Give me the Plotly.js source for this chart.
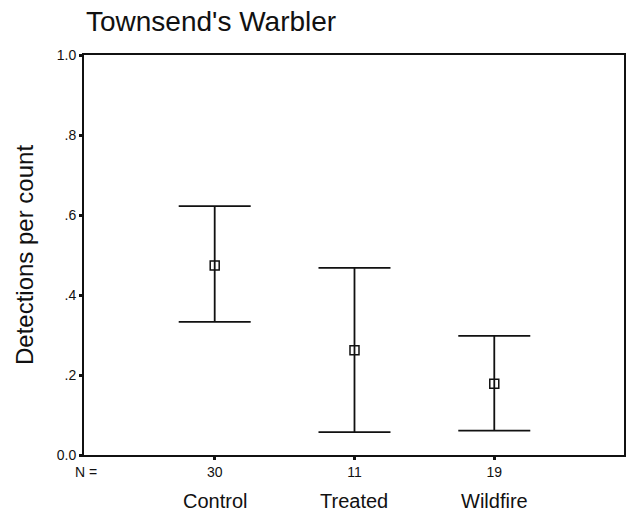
<!DOCTYPE html>
<html>
<head>
<meta charset="utf-8">
<script src="https://cdn.plot.ly/plotly-3.0.1.min.js"></script>
<style>html,body{margin:0;padding:0;background:#fff;}#chart{width:629px;height:511px;}</style>
</head>
<body>
<div id="chart"></div>
<script>
const categories = ["Control", "Treated", "Wildfire"];
const nValues = ["30", "11", "19"];
const means = [0.474, 0.262, 0.178];
const upper = [0.622, 0.468, 0.298];
const lower = [0.333, 0.057, 0.061];
const yTickVals = [0, 0.2, 0.4, 0.6, 0.8, 1.0];
const yTickText = ["0.0", ".2", ".4", ".6", ".8", "1.0"];

const xPos = categories.map((c, i) => i + 1);
const font = "Liberation Sans, Arial, sans-serif";

const trace = {
  type: "scatter",
  mode: "markers",
  x: xPos,
  y: means,
  marker: {symbol: "square-open", size: 9, color: "#111", line: {width: 1.5, color: "#111"}},
  error_y: {
    type: "data",
    symmetric: false,
    array: upper.map((u, i) => u - means[i]),
    arrayminus: lower.map((l, i) => means[i] - l),
    color: "#111",
    thickness: 1.8,
    width: 36
  },
  hoverinfo: "skip"
};

const annotations = categories.map((c, i) => ({
  x: xPos[i], y: 0, xref: "x", yref: "paper",
  text: c, showarrow: false, xanchor: "center", yanchor: "middle",
  yshift: -46, font: {family: font, size: 20, color: "#111"}
}));
annotations.push({
  x: 0, y: 0, xref: "paper", yref: "paper", text: "N =", showarrow: false,
  xanchor: "center", yanchor: "middle", xshift: 2, yshift: -17,
  font: {family: font, size: 14, color: "#111"}
});

const layout = {
  width: 629, height: 511,
  margin: {l: 84, r: 5, t: 55, b: 56},
  paper_bgcolor: "#fff", plot_bgcolor: "#fff",
  showlegend: false,
  title: {text: "Townsend's Warbler", x: 86/629, xanchor: "left", y: 1 - 21/511, yanchor: "middle",
          font: {family: font, size: 28, color: "#111"}},
  xaxis: {
    range: [0.065, 3.928], tickmode: "array", tickvals: xPos, ticktext: nValues,
    showline: true, mirror: true, linecolor: "#111", linewidth: 2,
    ticks: "outside", ticklen: 3, tickwidth: 3, tickcolor: "#111",
    showgrid: false, zeroline: false,
    tickfont: {family: font, size: 14, color: "#111"}
  },
  yaxis: {
    range: [0, 1], tickmode: "array", tickvals: yTickVals, ticktext: yTickText,
    showline: true, mirror: true, linecolor: "#111", linewidth: 2,
    ticks: "outside", ticklen: 3, tickwidth: 3, tickcolor: "#111",
    showgrid: false, zeroline: false,
    tickfont: {family: font, size: 14, color: "#111"},
    title: {text: "Detections per count", standoff: 16, font: {family: font, size: 24, color: "#111"}}
  },
  annotations: annotations
};

Plotly.newPlot("chart", [trace], layout, {displayModeBar: false, staticPlot: true});
</script>
</body>
</html>
